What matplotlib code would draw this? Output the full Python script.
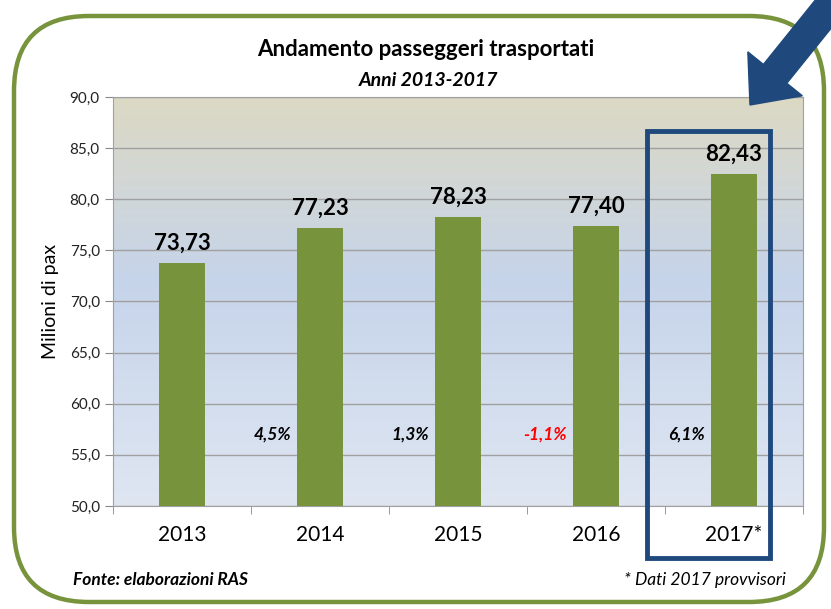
import numpy as np
import matplotlib.pyplot as plt
from matplotlib.patches import FancyBboxPatch, Rectangle, FancyArrow
from matplotlib.colors import LinearSegmentedColormap

plt.rcParams['font.family'] = ['Lato', 'DejaVu Sans']

anni = ['2013', '2014', '2015', '2016', '2017*']
passeggeri = [73.73, 77.23, 78.23, 77.40, 82.43]
etichette = ['73,73', '77,23', '78,23', '77,40', '82,43']
variazioni = ['', '4,5%', '1,3%', '-1,1%', '6,1%']
col_var = ['black', 'black', 'black', 'red', 'black']

fig = plt.figure(figsize=(8.31, 6.09), dpi=100)
ax = fig.add_axes([113 / 831, 1 - 506 / 609, 690 / 831, 409 / 609])

# sfondo sfumato dell'area del grafico (beige in alto, azzurro in basso)
cmap = LinearSegmentedColormap.from_list('sf', [(0, '#dcd9c4'), (0.45, '#c6d4ea'), (1, '#dfe6f2')])
grad = np.linspace(0, 1, 256).reshape(-1, 1)
ax.imshow(grad, cmap=cmap, aspect='auto', extent=[-0.5, 4.5, 50, 90], origin='upper', zorder=0)

x = np.arange(len(anni))
ax.bar(x, passeggeri, width=0.34, color='#77933c', zorder=3)
for i in x:
    ax.text(i, passeggeri[i] + 0.9, etichette[i], ha='center', va='bottom',
            fontsize=16, fontweight='bold', zorder=4)
    if variazioni[i]:
        ax.text(i - 0.21, 57.0, variazioni[i], ha='right', va='center', fontsize=12.5,
                fontweight='bold', fontstyle='italic', color=col_var[i], zorder=4)

ax.set_xlim(-0.5, 4.5)
ax.set_ylim(50, 90)
ax.set_yticks(np.arange(50, 91, 5))
ax.set_yticklabels([f'{v:.1f}'.replace('.', ',') for v in np.arange(50, 91, 5)], fontsize=11, color='#222222')
ax.set_xticks(x)
ax.set_xticklabels(anni, fontsize=15)
ax.set_xticks(np.arange(-0.5, 4.6, 1), minor=True)
ax.tick_params(axis='x', which='major', length=0, pad=14)
ax.tick_params(axis='x', which='minor', length=6, color='#888888')
ax.tick_params(axis='y', length=6, color='#888888')
ax.grid(axis='y', color='#a0a0a0', linewidth=1, zorder=1)
for s in ax.spines.values():
    s.set_color('#a0a0a0')
ax.set_ylabel('Milioni di pax', fontsize=14, labelpad=8)

# livello sovrapposto in pixel per cornice, freccia e riquadro
ov = fig.add_axes([0, 0, 1, 1], facecolor='none')
ov.set_xlim(0, 831)
ov.set_ylim(609, 0)
ov.axis('off')
ov.add_patch(FancyBboxPatch((14, 16), 810, 586, boxstyle='round,pad=0,rounding_size=75',
                            fill=False, edgecolor='#77933c', linewidth=3.2))
ov.add_patch(Rectangle((647, 131), 123, 427, fill=False, edgecolor='#1f497d', linewidth=3.5))
ov.add_patch(FancyArrow(862, -34, -112, 139, width=30, head_width=70, head_length=40,
                        length_includes_head=True, color='#1f497d'))

ov.text(426, 50, 'Andamento passeggeri trasportati', ha='center', va='center',
        fontsize=16, fontweight='bold')
ov.text(428, 80, 'Anni 2013-2017', ha='center', va='center', fontsize=14,
        fontweight='bold', fontstyle='italic')
ov.text(73, 580, 'Fonte: elaborazioni RAS', ha='left', va='center', fontsize=12.5,
        fontweight='bold', fontstyle='italic')
ov.text(786, 580, '* Dati 2017 provvisori', ha='right', va='center', fontsize=12.5,
        fontstyle='italic')

fig.savefig('out.png', dpi=100)
